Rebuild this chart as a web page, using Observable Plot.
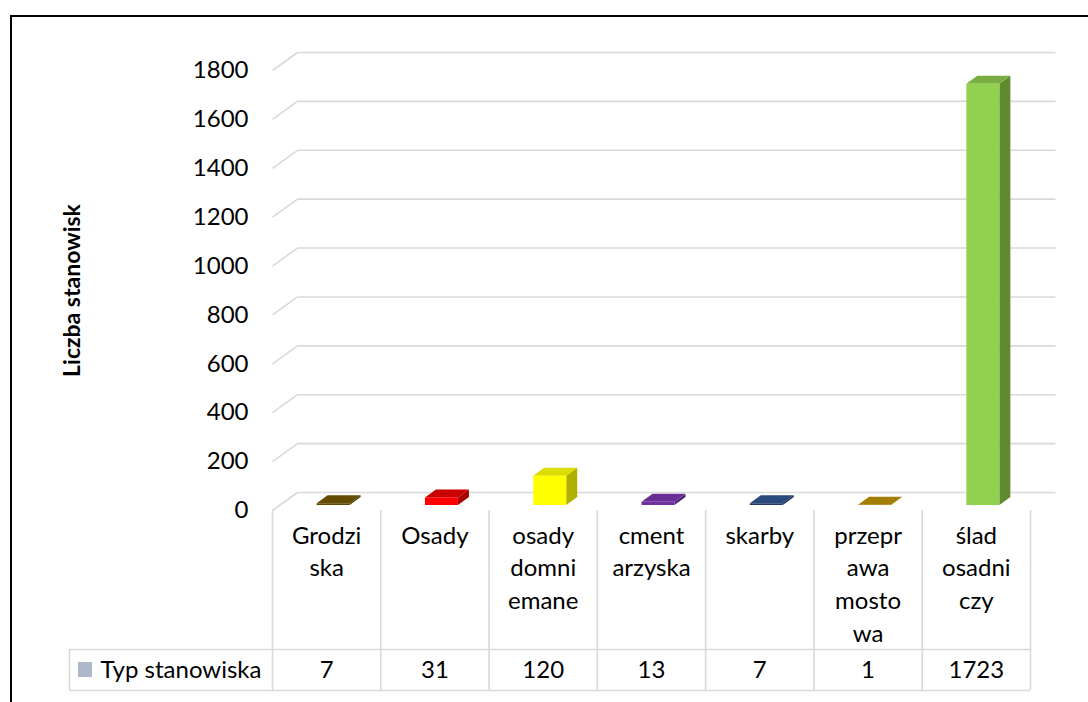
<!DOCTYPE html>
<html>
<head>
<meta charset="utf-8">
<script src="https://cdn.jsdelivr.net/npm/d3@7"></script>
<script src="https://cdn.jsdelivr.net/npm/@observablehq/plot@0.6"></script>
<style>
  html, body { margin: 0; padding: 0; background: #fff; }
  #wrap { position: relative; width: 1088px; height: 702px; overflow: hidden; }
  #chart { position: absolute; left: 0; top: 0; }
  #border { position: absolute; left: 10px; top: 15px; width: 1200px; height: 800px;
            border: 2px solid #000; box-sizing: border-box; pointer-events: none; }
</style>
</head>
<body>
<div id="wrap"><div id="chart"></div><div id="border"></div></div>
<script>
// ---------- DATA ----------
const categories = ["Grodziska", "Osady", "osady domniemane", "cmentarzyska", "skarby", "przeprawa mostowa", "ślad osadniczy"];
const categoryLabels = ["Grodzi\nska", "Osady", "osady\ndomni\nemane", "cment\narzyska", "skarby", "przepr\nawa\nmosto\nwa", "ślad\nosadni\nczy"];
const counts = [7, 31, 120, 13, 7, 1, 1723];
const yTicks = [0, 200, 400, 600, 800, 1000, 1200, 1400, 1600, 1800];
const seriesName = "Typ stanowiska";
const yTitle = "Liczba stanowisk";

// ---------- STYLE ----------
const frontColors = ["#5c4600", "#ff0000", "#ffff00", "#7030a0", "#203864", "#9c7800", "#92d050"];
const topColors   = ["#634b00", "#c80000", "#dcdc00", "#6a2d96", "#2a4a80", "#a47e00", "#78ad42"];
const sideColors  = ["#4a3800", "#a80000", "#b0b000", "#52237a", "#182c50", "#7a5e00", "#5f8a30"];
const gridColor = "#d9d9d9";
const legendKeyColor = "#adb9ca";

// ---------- LAYOUT ----------
const W = 1088, H = 702, ML = 272, MR = 58, MT = 70, MB = 192;
const yMax = 1800, nCat = categories.length;
const kx = nCat / (W - ML - MR);     // x data units per pixel
const ky = yMax / (H - MT - MB);     // y data units per pixel
const below = px => -px * ky;        // pixel distance below the floor -> y units
const depthX = 25 * kx, depthY = 18 * ky;          // floor depth
const barHalf = 16.5 * kx, barOffX = 7 * kx, barOffY = 5 * ky; // bar front face
const barDX = 11 * kx, barDY = 8 * ky;             // bar depth
const legendX = -(ML - 69) * kx;

const bars = counts.map((v, i) => ({
  i, v, name: categories[i],
  x1: i + 0.5 - barHalf + barOffX,
  x2: i + 0.5 + barHalf + barOffX,
  y1: barOffY,
  y2: v + barOffY
}));
const sidePts = bars.flatMap(b => [
  {i: b.i, x: b.x2, y1: b.y1, y2: b.y2, c: sideColors[b.i]},
  {i: b.i, x: b.x2 + barDX, y1: b.y1 + barDY, y2: b.y2 + barDY, c: sideColors[b.i]}
]);
const topPts = bars.flatMap(b => [
  {i: b.i, y: b.y2, x1: b.x1, x2: b.x2, c: topColors[b.i]},
  {i: b.i, y: b.y2 + barDY, x1: b.x1 + barDX, x2: b.x2 + barDX, c: topColors[b.i]}
]);

const chart = Plot.plot({
  width: W, height: H,
  marginLeft: ML, marginRight: MR, marginTop: MT, marginBottom: MB,
  style: {fontFamily: "Lato, sans-serif", fontSize: "24px", color: "#000", background: "transparent"},
  x: {domain: [0, nCat], axis: null},
  y: {domain: [0, yMax], ticks: yTicks, tickFormat: d => String(d), tickSize: 0, tickPadding: 24, label: null},
  color: {type: "identity"},
  marks: [
    // back wall gridlines + left wall diagonals
    Plot.link(yTicks, {x1: 0, y1: d => d, x2: depthX, y2: d => d + depthY, stroke: gridColor, strokeWidth: 1.6}),
    Plot.link(yTicks, {x1: depthX, y1: d => d + depthY, x2: nCat + depthX, y2: d => d + depthY, stroke: gridColor, strokeWidth: 1.6}),
    // 3D bars
    Plot.areaY(sidePts, {x: "x", y1: "y1", y2: "y2", z: "i", fill: "c"}),
    Plot.areaX(topPts, {y: "y", x1: "x1", x2: "x2", z: "i", fill: "c"}),
    Plot.rect(bars, {x1: "x1", x2: "x2", y1: "y1", y2: "y2", fill: d => frontColors[d.i]}),
    // y axis title
    Plot.text([yTitle], {frameAnchor: "left", dx: -200, rotate: -90, text: d => d, textAnchor: "middle",
      lineAnchor: "middle", fontWeight: "bold", fontSize: 23, fill: "#000"}),
    // data table grid
    Plot.ruleX(d3.range(nCat + 1), {x: d => d, y1: 0, y2: below(180), stroke: gridColor, strokeWidth: 1.6}),
    Plot.ruleX([legendX], {x: d => d, y1: below(139), y2: below(180), stroke: gridColor, strokeWidth: 1.6}),
    Plot.ruleY([below(139), below(180)], {y: d => d, x1: legendX, x2: nCat, stroke: gridColor, strokeWidth: 1.6}),
    // category labels
    Plot.text(bars, {x: d => d.i + 0.5, y: below(10), text: d => categoryLabels[d.i], lineAnchor: "top",
      lineHeight: 1.36, fontSize: 24, fill: "#000"}),
    // values row
    Plot.text(bars, {x: d => d.i + 0.5, y: below(160), text: d => String(d.v), lineAnchor: "middle",
      fontSize: 24, fill: "#000"}),
    // legend key + series name
    Plot.rect([seriesName], {x1: legendX + 9 * kx, x2: legendX + 23 * kx, y1: below(152), y2: below(167), fill: legendKeyColor}),
    Plot.text([seriesName], {x: legendX + 31 * kx, y: below(160), text: d => d, textAnchor: "start",
      lineAnchor: "middle", fontSize: 24, fill: "#000"})
  ]
});
document.getElementById("chart").appendChild(chart);
</script>
</body>
</html>
